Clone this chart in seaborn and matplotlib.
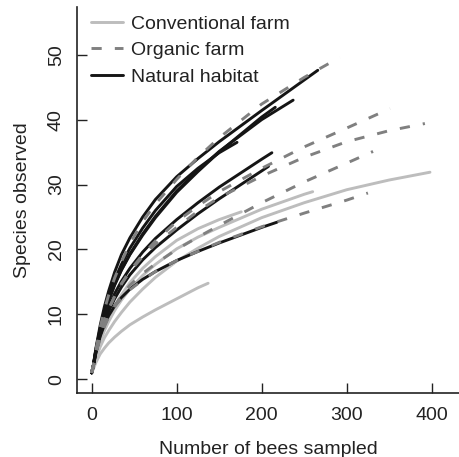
import matplotlib
matplotlib.use("Agg")
import matplotlib.pyplot as plt
from matplotlib.lines import Line2D
import pandas as pd
import seaborn as sns

# ---- values (bees sampled -> species observed) ----
# Conventional farms
conv1_x = [0, 2, 5, 10, 15, 20, 27, 35, 45, 60, 75, 100, 125, 150, 200, 250, 300, 350, 398]
conv1_y = [1, 1.8, 3.2, 5.0, 6.4, 7.5, 8.9, 10.3, 11.9, 13.9, 15.7, 18.2, 20.2, 22.0, 24.9, 27.2, 29.2, 30.7, 31.9]
conv2_x = [0, 2, 5, 10, 15, 20, 27, 35, 45, 60, 75, 100, 125, 150, 200, 250, 260]
conv2_y = [1, 1.9, 3.6, 5.8, 7.5, 8.9, 10.6, 12.2, 13.9, 16.0, 17.7, 20.1, 21.9, 23.4, 26.2, 28.5, 28.9]
conv3_x = [0, 2, 5, 10, 15, 20, 27, 35, 45, 60, 75, 100, 125, 150, 176]
conv3_y = [1, 1.95, 3.8, 6.1, 8.0, 9.5, 11.3, 13.0, 14.9, 17.1, 18.9, 21.4, 23.2, 24.6, 25.8]
conv4_x = [0, 2, 5, 10, 15, 20, 27, 35, 45, 60, 75, 100, 125, 137]
conv4_y = [1, 1.6, 2.6, 3.9, 4.8, 5.6, 6.5, 7.4, 8.4, 9.6, 10.7, 12.4, 14.1, 14.8]

# Natural habitats
nat1_x = [0, 2, 5, 10, 15, 20, 27, 35, 45, 60, 75, 100, 125, 150, 200, 250, 266]
nat1_y = [1, 2.2, 4.8, 8.3, 11.2, 13.6, 16.5, 19.2, 21.8, 25.0, 27.7, 31.2, 34.0, 36.6, 41.4, 46.1, 47.6]
nat2_x = [0, 2, 5, 10, 15, 20, 27, 35, 45, 60, 75, 100, 125, 150, 200, 237]
nat2_y = [1, 2.1, 4.5, 7.6, 10.1, 12.2, 14.6, 16.9, 19.3, 22.4, 25.1, 29.0, 32.2, 35.1, 40.0, 43.0]
nat3_x = [0, 2, 5, 10, 15, 20, 27, 35, 45, 60, 75, 100, 125, 150, 200, 216]
nat3_y = [1, 2.1, 4.5, 7.5, 10.0, 12.1, 14.5, 16.8, 19.2, 22.2, 24.9, 28.8, 32.0, 35.0, 40.4, 41.9]
nat4_x = [0, 2, 5, 10, 15, 20, 27, 35, 45, 60, 75, 100, 125, 150, 171]
nat4_y = [1, 2.2, 4.6, 7.9, 10.6, 12.8, 15.3, 17.7, 20.2, 23.3, 26.0, 29.7, 32.5, 34.9, 36.5]
nat5_x = [0, 2, 5, 10, 15, 20, 27, 35, 45, 60, 75, 100, 125, 150, 200, 212]
nat5_y = [1, 2.1, 4.3, 7.2, 9.4, 11.2, 13.2, 15.1, 17.1, 19.6, 21.7, 24.6, 27.2, 29.6, 33.9, 34.9]
nat6_x = [0, 2, 5, 10, 15, 20, 27, 35, 45, 60, 75, 100, 125, 150, 200, 208]
nat6_y = [1, 2.05, 4.1, 6.8, 8.8, 10.5, 12.4, 14.2, 16.1, 18.4, 20.3, 23.0, 25.5, 27.8, 32.1, 32.8]
nat7_x = [0, 2, 5, 10, 15, 20, 27, 35, 45, 60, 75, 100, 125, 150, 200, 218]
nat7_y = [1, 2.05, 4.1, 6.6, 8.4, 9.8, 11.3, 12.6, 13.9, 15.4, 16.6, 18.3, 19.7, 21.0, 23.4, 24.2]

# Organic farms
org1_x = [0, 2, 5, 10, 15, 20, 27, 35, 45, 60, 75, 100, 125, 150, 200, 250, 292]
org1_y = [1, 2.1, 4.6, 8.0, 10.7, 13.0, 15.6, 18.1, 20.9, 24.3, 27.0, 30.8, 34.2, 37.2, 42.4, 46.5, 49.6]
org2_x = [0, 2, 5, 10, 15, 20, 27, 35, 45, 60, 75, 100, 125, 150, 200, 250, 300, 351]
org2_y = [1, 2.05, 4.2, 6.9, 9.1, 10.8, 12.8, 14.7, 16.7, 19.2, 21.3, 24.3, 26.7, 28.9, 32.5, 35.8, 38.7, 41.7]
org3_x = [0, 2, 5, 10, 15, 20, 27, 35, 45, 60, 75, 100, 125, 150, 200, 250, 300, 350, 392]
org3_y = [1, 2.05, 4.2, 6.9, 9.1, 10.8, 12.8, 14.7, 16.6, 18.9, 20.8, 23.4, 25.9, 28.0, 31.3, 34.2, 36.6, 38.3, 39.4]
org4_x = [0, 2, 5, 10, 15, 20, 27, 35, 45, 60, 75, 100, 125, 150, 200, 250, 300, 331]
org4_y = [1, 2.0, 4.0, 6.3, 8.1, 9.6, 11.3, 12.9, 14.5, 16.3, 17.8, 20.0, 21.9, 23.7, 27.2, 30.4, 33.3, 35.1]
org5_x = [0, 2, 5, 10, 15, 20, 27, 35, 45, 60, 75, 100, 125, 150, 200, 250, 300, 325]
org5_y = [1, 2.05, 4.1, 6.5, 8.3, 9.7, 11.2, 12.5, 13.8, 15.3, 16.6, 18.3, 19.7, 21.1, 23.5, 25.6, 27.6, 28.7]

habitats = ["Conventional farm", "Organic farm", "Natural habitat"]
x_ticks = [0, 100, 200, 300, 400]
y_ticks = [0, 10, 20, 30, 40, 50]

curves = [
    ("Conventional farm", "c1", conv1_x, conv1_y),
    ("Conventional farm", "c2", conv2_x, conv2_y),
    ("Conventional farm", "c3", conv3_x, conv3_y),
    ("Conventional farm", "c4", conv4_x, conv4_y),
    ("Natural habitat", "n1", nat1_x, nat1_y),
    ("Natural habitat", "n2", nat2_x, nat2_y),
    ("Natural habitat", "n3", nat3_x, nat3_y),
    ("Natural habitat", "n4", nat4_x, nat4_y),
    ("Natural habitat", "n5", nat5_x, nat5_y),
    ("Natural habitat", "n6", nat6_x, nat6_y),
    ("Natural habitat", "n7", nat7_x, nat7_y),
    ("Organic farm", "o1", org1_x, org1_y),
    ("Organic farm", "o2", org2_x, org2_y),
    ("Organic farm", "o3", org3_x, org3_y),
    ("Organic farm", "o4", org4_x, org4_y),
    ("Organic farm", "o5", org5_x, org5_y),
]

rows = []
for hab, site, xs, ys in curves:
    for xv, yv in zip(xs, ys):
        rows.append({"habitat": hab, "site": site, "bees": xv, "species": yv})
df = pd.DataFrame(rows)

sns.set_theme(style="ticks")
plt.rcParams["font.family"] = ["Liberation Sans", "DejaVu Sans"]

colors = {"Conventional farm": "#bdbdbd", "Organic farm": "#808080", "Natural habitat": "#151515"}
dash_map = {"Conventional farm": "", "Organic farm": (3.5, 4.5), "Natural habitat": ""}
draw_order = ["Conventional farm", "Natural habitat", "Organic farm"]

fig = plt.figure(figsize=(4.6, 4.57), dpi=100)
ax = fig.add_axes([76.7 / 460, 1 - 393.3 / 457, 1 - 76.7 / 460, (393.3 - 7.3) / 457])

sns.lineplot(data=df, x="bees", y="species", hue="habitat", style="habitat",
             units="site", estimator=None, sort=False,
             hue_order=draw_order, style_order=draw_order,
             palette=colors, dashes=dash_map, linewidth=2.1, legend=False, ax=ax)

ax.set_xlim(-17.6, 433.3)
ax.set_ylim(-2.15, 57.3)
ax.set_xticks(x_ticks)
ax.set_yticks(y_ticks)
ax.tick_params(direction="in", length=7.2, width=1.0, labelsize=14, colors="#222222")
ax.tick_params(axis="x", pad=10)
ax.tick_params(axis="y", pad=8.5)
plt.setp(ax.get_yticklabels(), rotation=90, va="center")
for s in ["top", "right"]:
    ax.spines[s].set_visible(False)
for s in ["left", "bottom"]:
    ax.spines[s].set_linewidth(1.2)
    ax.spines[s].set_color("#222222")

ax.set_xlabel("Number of bees sampled", fontsize=14, labelpad=12, color="#222222")
ax.set_ylabel("Species observed", fontsize=14, labelpad=12, color="#222222")

handles = []
for h in habitats:
    if dash_map[h]:
        handles.append(Line2D([], [], color=colors[h], lw=2.1, linestyle=(0, dash_map[h])))
    else:
        handles.append(Line2D([], [], color=colors[h], lw=2.1, linestyle="-"))
leg = ax.legend(handles, habitats, loc="upper left", frameon=False, fontsize=14,
                bbox_to_anchor=(90.7 / 460, 1 - 15.2 / 457), bbox_transform=fig.transFigure,
                borderpad=0, borderaxespad=0, handlelength=1.65, handletextpad=0.4,
                labelspacing=0.45)
for t in leg.get_texts():
    t.set_color("#222222")

fig.savefig("out.png", dpi=100)
